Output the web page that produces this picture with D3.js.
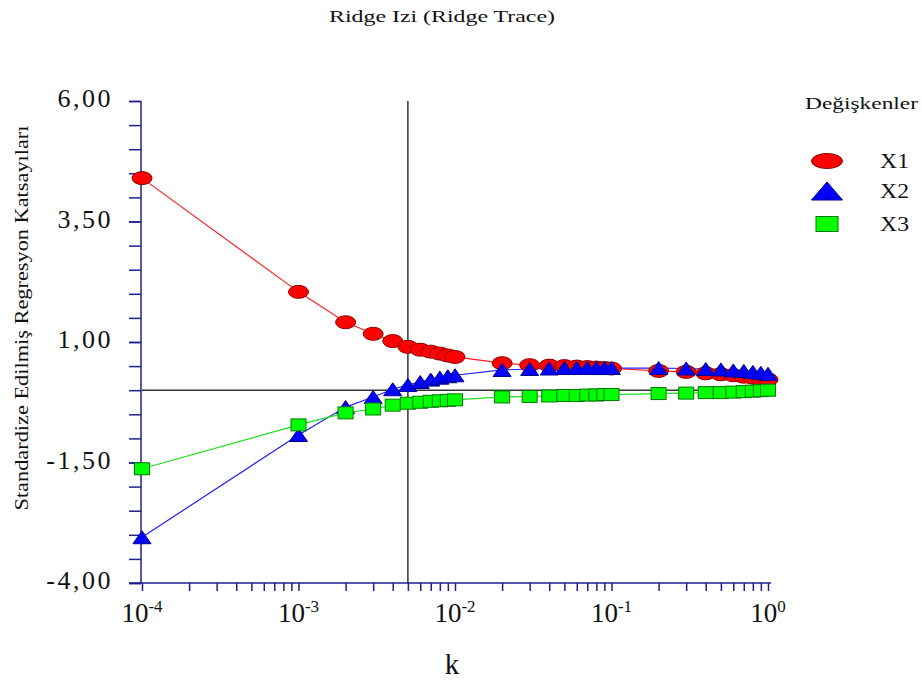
<!DOCTYPE html>
<html>
<head>
<meta charset="utf-8">
<script src="https://cdn.jsdelivr.net/npm/d3@7"></script>
<style>
  body { margin: 0; background: #fff; }
  svg text { font-family: "Liberation Serif", "Times New Roman", serif; fill: #111; }
</style>
</head>
<body>
<svg id="canvas" width="922" height="683"></svg>
<script>
// ridge trace values
let kValues = [0.0001, 0.001, 0.002, 0.003, 0.004, 0.005, 0.006, 0.007, 0.008, 0.009, 0.01,
               0.02, 0.03, 0.04, 0.05, 0.06, 0.07, 0.08, 0.09, 0.1,
               0.2, 0.3, 0.4, 0.5, 0.6, 0.7, 0.8, 0.9, 1.0];

let x1Values = [4.40, 2.04, 1.41, 1.17, 1.02, 0.90, 0.84, 0.80, 0.76, 0.72, 0.69,
                0.56, 0.52, 0.51, 0.50, 0.49, 0.48, 0.47, 0.46, 0.45,
                0.40, 0.38, 0.35, 0.33, 0.31, 0.28, 0.26, 0.24, 0.22];

let x2Values = [-3.05, -0.93, -0.35, -0.14, 0.02, 0.11, 0.17, 0.22, 0.26, 0.29, 0.31,
                0.42, 0.44, 0.45, 0.46, 0.46, 0.46, 0.46, 0.46, 0.46,
                0.46, 0.45, 0.44, 0.43, 0.41, 0.40, 0.38, 0.36, 0.34];

let x3Values = [-1.63, -0.72, -0.47, -0.39, -0.31, -0.27, -0.25, -0.23, -0.22, -0.21, -0.20,
                -0.14, -0.13, -0.12, -0.11, -0.11, -0.10, -0.10, -0.09, -0.09,
                -0.07, -0.06, -0.05, -0.05, -0.04, -0.03, -0.02, -0.01, 0.00];

let seriesNames = ['X1', 'X2', 'X3'];
let yMajorTicks = [6, 3.5, 1, -1.5, -4];
let xMajorTicks = [0.0001, 0.001, 0.01, 0.1, 1];
let xTickExponents = ['-4', '-3', '-2', '-1', '0'];
let kReference = 0.005;

let canvas = d3.select('#canvas');

let xScale = d3.scaleLog().domain([0.0001, 1]).range([142, 768]);
let yScale = d3.scaleLinear().domain([-4, 6]).range([583, 101]);

let axisColor = '#1f1f8f';
let trFormat = d3.formatLocale({decimal: ',', thousands: '.', grouping: [3], currency: ['', ''], minus: '-'}).format('.2f');

// title
canvas.append('text')
    .attr('x', 442).attr('y', 22)
    .attr('text-anchor', 'middle')
    .attr('font-size', 17)
    .attr('textLength', 226)
    .attr('lengthAdjust', 'spacingAndGlyphs')
    .text('Ridge Izi (Ridge Trace)');

// y axis
let yMinor = d3.range(-4, 6.01, 0.5);
let yAxis = canvas.append('g')
    .attr('transform', 'translate(141,0)')
    .call(d3.axisLeft(yScale).tickValues(yMinor).tickSize(12).tickFormat(''));
let yLabels = canvas.append('g')
    .attr('transform', 'translate(141,0)')
    .call(d3.axisLeft(yScale).tickValues(yMajorTicks).tickSize(12).tickPadding(16).tickFormat(trFormat));
yLabels.select('.domain').remove();
[yAxis, yLabels].forEach((g) => {
    g.selectAll('line').attr('stroke', axisColor).attr('stroke-width', 1.5);
    g.select('.domain').attr('stroke', axisColor).attr('stroke-width', 1.5);
});
yAxis.select('.domain').attr('d', 'M0,101V583');
yLabels.selectAll('text')
    .attr('font-size', 26)
    .attr('letter-spacing', 2.5)
    .attr('dy', '0.22em')
    .style('fill', '#111');

// x axis
let xMinor = [];
xMajorTicks.slice(0, 4).forEach((d) => {
    for (let m = 2; m <= 9; m++) xMinor.push(d * m);
});
let xAxis = canvas.append('g')
    .attr('transform', 'translate(0,583)')
    .call(d3.axisBottom(xScale).tickValues(xMinor.concat(xMajorTicks)).tickSize(8).tickFormat(''));
xAxis.selectAll('line').attr('stroke', axisColor).attr('stroke-width', 1.5);
xAxis.select('.domain').attr('stroke', axisColor).attr('stroke-width', 1.5).attr('d', 'M129,0H771');

let xLabels = canvas.append('g');
xMajorTicks.forEach((d, i) => {
    let t = xLabels.append('text')
        .attr('x', xScale(d)).attr('y', 622)
        .attr('text-anchor', 'middle');
    t.append('tspan').attr('font-size', 27).text('10');
    t.append('tspan').attr('font-size', 17).attr('dy', -10).text(xTickExponents[i]);
});

canvas.append('text')
    .attr('x', 452).attr('y', 674)
    .attr('text-anchor', 'middle')
    .attr('font-size', 29)
    .text('k');

// y title
canvas.append('text')
    .attr('transform', 'translate(28,318) rotate(-90)')
    .attr('text-anchor', 'middle')
    .attr('font-size', 18)
    .attr('textLength', 385)
    .attr('lengthAdjust', 'spacingAndGlyphs')
    .text('Standardize Edilmiş Regresyon Katsayıları');

// reference lines
canvas.append('line')
    .attr('x1', xScale(kReference)).attr('x2', xScale(kReference))
    .attr('y1', yScale(6)).attr('y2', yScale(-4))
    .attr('stroke', '#333').attr('stroke-width', 1.5);
canvas.append('line')
    .attr('x1', xScale(0.0001)).attr('x2', 771)
    .attr('y1', yScale(0)).attr('y2', yScale(0))
    .attr('stroke', '#333').attr('stroke-width', 1.5);

// series
let series = [
    {name: seriesNames[0], values: x1Values, line: '#ff2020', fill: '#ff0000', stroke: '#8b0000', shape: 'ellipse'},
    {name: seriesNames[1], values: x2Values, line: '#2020ff', fill: '#0000ff', stroke: '#00008b', shape: 'triangle'},
    {name: seriesNames[2], values: x3Values, line: '#20e020', fill: '#00ff00', stroke: '#007a00', shape: 'square'}
];

let lineGen = d3.line()
    .x((d) => xScale(d[0]))
    .y((d) => yScale(d[1]));

let drawMarker = (g, shape, w, h, s) => {
    if (shape === 'ellipse') {
        g.append('ellipse').attr('rx', w / 2).attr('ry', h / 2);
    } else if (shape === 'triangle') {
        g.append('path').attr('d', `M0,${-h / 2}L${w / 2},${h / 2}L${-w / 2},${h / 2}Z`);
    } else {
        g.append('rect').attr('x', -w / 2).attr('y', -h / 2).attr('width', w).attr('height', h);
    }
    g.selectAll('*').attr('fill', s.fill).attr('stroke', s.stroke).attr('stroke-width', 1);
};

let markerSize = {ellipse: [20, 13], triangle: [18, 13], square: [15, 12]};

series.forEach((s) => {
    let pts = kValues.map((k, i) => [k, s.values[i]]);
    canvas.append('path')
        .datum(pts)
        .attr('d', lineGen)
        .attr('fill', 'none')
        .attr('stroke', s.line)
        .attr('stroke-width', 1.2);
});

series.forEach((s) => {
    let pts = kValues.map((k, i) => [k, s.values[i]]);
    canvas.append('g').selectAll('g')
        .data(pts)
        .enter()
        .append('g')
        .attr('transform', (d) => `translate(${xScale(d[0])},${yScale(d[1])})`)
        .each(function () {
            drawMarker(d3.select(this), s.shape, markerSize[s.shape][0], markerSize[s.shape][1], s);
        });
});

// legend
let legend = canvas.append('g');
legend.append('text')
    .attr('x', 805).attr('y', 109)
    .attr('font-size', 17)
    .attr('textLength', 113)
    .attr('lengthAdjust', 'spacingAndGlyphs')
    .text('Değişkenler');

let legendY = [161, 191, 224];
let legendSize = {ellipse: [31, 15], triangle: [31, 18], square: [22, 15]};
series.forEach((s, i) => {
    let g = legend.append('g').attr('transform', `translate(827,${legendY[i]})`);
    drawMarker(g, s.shape, legendSize[s.shape][0], legendSize[s.shape][1], s);
    legend.append('text')
        .attr('x', 880).attr('y', legendY[i] + 7)
        .attr('font-size', 20)
        .attr('textLength', 29)
        .attr('lengthAdjust', 'spacingAndGlyphs')
        .text(s.name);
});
</script>
</body>
</html>
